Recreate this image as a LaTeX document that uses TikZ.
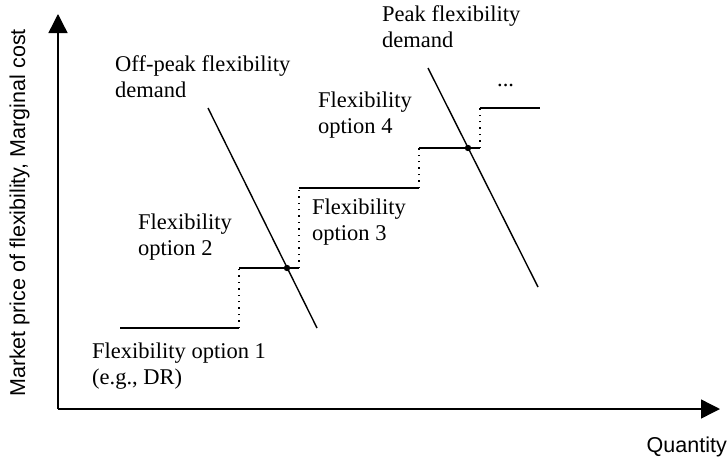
\documentclass[tikz,border=0pt]{standalone}
\usepackage{fontspec}
\setmainfont{Liberation Serif}
\setsansfont{Liberation Sans}
\usetikzlibrary{arrows.meta}
\begin{document}
\begin{tikzpicture}[x=1pt,y=-1pt,
  axis/.style={line width=1.4pt,-{Triangle[length=19pt,width=19pt]}},
  stepline/.style={line width=1.4pt},
  dotline/.style={line width=1.4pt,dash pattern=on 1.4pt off 5pt},
  demand/.style={line width=1.4pt},
  lbl/.style={font=\fontsize{22.5}{26}\selectfont,inner sep=0pt,anchor=base west,align=left},
  sflbl/.style={font=\sffamily\fontsize{21.5}{24}\selectfont,inner sep=0pt}]
\useasboundingbox (0,0) rectangle (728,461);
% axes
\coordinate (O) at (58,409);
\coordinate (Ytop) at (58,14);
\coordinate (Xend) at (720,409);
\draw[axis] (O) -- (Ytop);
\draw[axis] (O) -- (Xend);
\node[sflbl,rotate=90,anchor=base] (ylab) at (25,213) {Market price of flexibility, Marginal cost};
\node[sflbl,anchor=base east] (xlab) at (727,452) {Quantity};
% steps
\coordinate (a1) at (120,328); \coordinate (a2) at (239,328);
\coordinate (b1) at (239,268); \coordinate (b2) at (299,268);
\coordinate (c1) at (299,188); \coordinate (c2) at (419,188);
\coordinate (d1) at (419,148); \coordinate (d2) at (480,148);
\coordinate (e1) at (480,108); \coordinate (e2) at (540,108);
\draw[stepline] (a1) -- (a2);
\draw[dotline] (a2) -- (b1);
\draw[stepline] (b1) -- (b2);
\draw[dotline] (b2) -- (c1);
\draw[stepline] (c1) -- (c2);
\draw[dotline] (c2) -- (d1);
\draw[stepline] (d1) -- (d2);
\draw[dotline] (d2) -- (e1);
\draw[stepline] (e1) -- (e2);
% demand curves
\coordinate (op1) at (208,108); \coordinate (op2) at (317,328);
\coordinate (pk1) at (428,68); \coordinate (pk2) at (538,287);
\draw[demand] (op1) -- (op2);
\draw[demand] (pk1) -- (pk2);
\fill (287,268) circle (3.2pt);
\fill (468,148) circle (3.2pt);
% labels (anchor at baseline of last line)
\node[lbl] (l1) at (92,384) {Flexibility option 1\\(e.g., DR)};
\node[lbl] (l2) at (138,255) {Flexibility\\option 2};
\node[lbl] (l3) at (312,240) {Flexibility\\option 3};
\node[lbl] (l4) at (318,133) {Flexibility\\option 4};
\node[lbl] (lop) at (115,97) {Off-peak flexibility\\demand};
\node[lbl] (lpk) at (382,47) {Peak flexibility\\demand};
\node[lbl] (dots) at (497,86) {...};
\end{tikzpicture}
\end{document}
